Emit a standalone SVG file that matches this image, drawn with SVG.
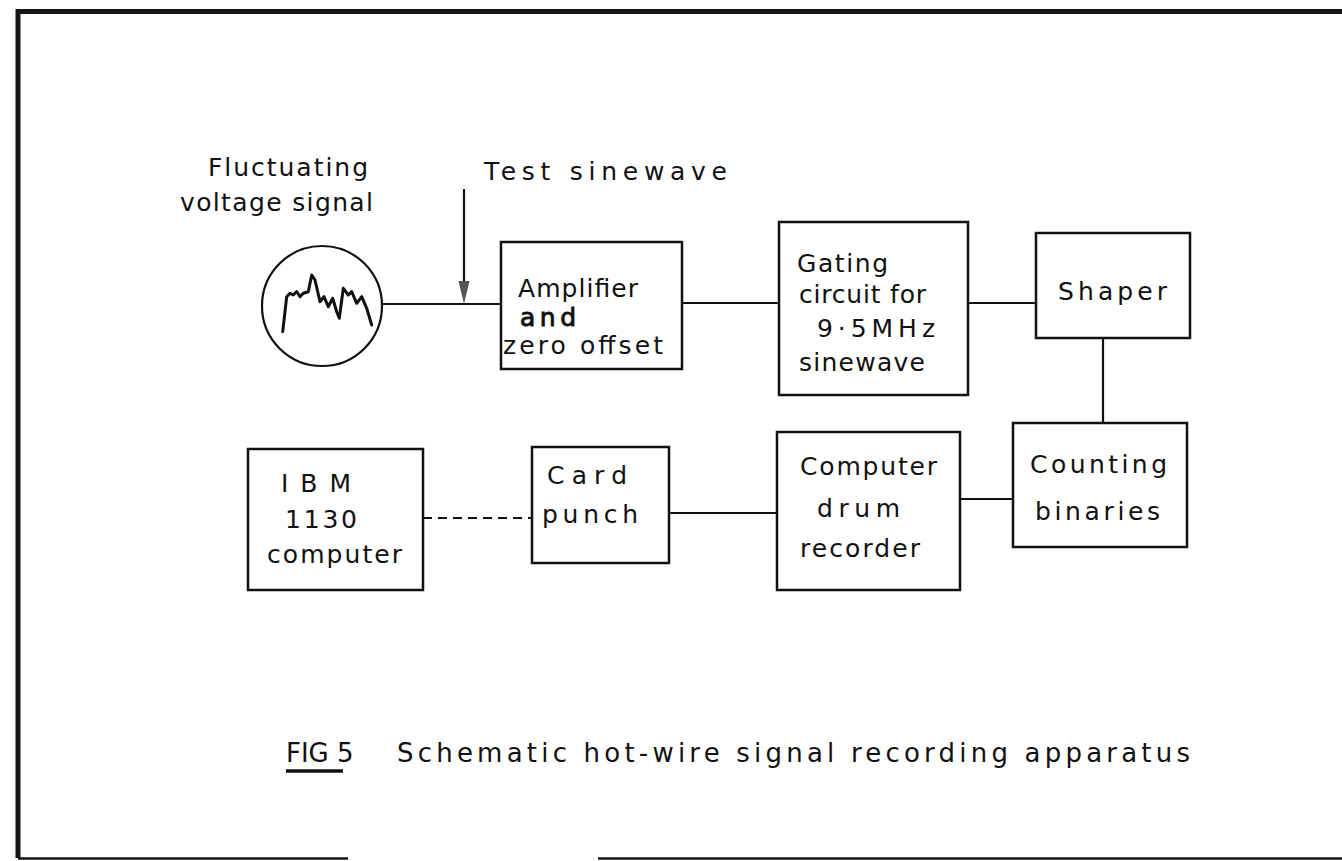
<svg xmlns="http://www.w3.org/2000/svg" width="1342" height="861" viewBox="0 0 1342 861">
  <style>
    .box { fill: #fff; stroke: #111; stroke-width: 2.5; }
    .wire { fill: none; stroke: #111; stroke-width: 2.2; }
    .dash { fill: none; stroke: #111; stroke-width: 2; stroke-dasharray: 9 6; }
    .lbl { font-family: "DejaVu Sans", "Liberation Sans", sans-serif; font-size: 25px; fill: #111; }
    .cap { font-family: "DejaVu Sans", "Liberation Sans", sans-serif; font-size: 26px; fill: #111; }
    .frame { fill: none; stroke: #151515; }
  </style>

  <rect width="1342" height="861" fill="#fff"/>

  <!-- page frame -->
  <g id="frame">
    <path class="frame" d="M18,858 L18,11.5 L1342,11.5" stroke-width="5"/>
    <path class="frame" d="M18,858.5 L348,858.5" stroke-width="2.5" stroke="#444"/>
    <path class="frame" d="M598,858.5 L1342,858.5" stroke-width="2.5" stroke="#777"/>
  </g>

  <!-- connectors -->
  <g id="connectors">
    <path class="wire" d="M382,304 L501,304"/>
    <path class="wire" d="M464,189 L464,284"/>
    <polygon points="458.5,281 469.5,281 464,304" fill="#555"/>
    <path class="wire" d="M682,303 L779,303"/>
    <path class="wire" d="M968,303 L1036,303"/>
    <path class="wire" d="M1103,338 L1103,423"/>
    <path class="wire" d="M960,499 L1013,499"/>
    <path class="wire" d="M669,513 L777,513"/>
    <path class="dash" d="M423,518 L532,518"/>
  </g>

  <!-- signal source -->
  <g id="source">
    <circle cx="322" cy="306" r="60" fill="#fff" stroke="#111" stroke-width="2.2"/>
    <polyline fill="none" stroke="#111" stroke-width="3" stroke-linejoin="round" stroke-linecap="round"
      points="282.7,331.7 286.7,296.7 290,293.3 293.3,295 296.7,291.7 300,296.7 303.3,293.3 308.3,291.7 311.7,275 315,280 320,301.7 324,296.7 328.3,306.7 332.7,298.3 336.7,311.7 339.3,318.3 343.3,288.3 348.3,295 351.7,291.7 356.7,303.3 361.7,296.7 366.7,308.3 371.7,325"/>
    <text class="lbl" x="208" y="176" textLength="160" lengthAdjust="spacing">Fluctuating</text>
    <text class="lbl" x="180" y="211" textLength="193" lengthAdjust="spacing">voltage signal</text>
  </g>

  <g id="test-sinewave">
    <text class="lbl" x="484" y="180" font-size="22" textLength="243" lengthAdjust="spacing">Test sinewave</text>
  </g>

  <g id="amplifier">
    <rect class="box" x="501" y="242" width="181" height="127"/>
    <text class="lbl" x="518" y="297" textLength="120" lengthAdjust="spacing">Amplifier</text>
    <text class="lbl" x="520" y="326" stroke="#111" stroke-width="0.9" textLength="56" lengthAdjust="spacing">and</text>
    <text class="lbl" x="503" y="354" textLength="160" lengthAdjust="spacing">zero offset</text>
  </g>

  <g id="gating">
    <rect class="box" x="779" y="222" width="189" height="173"/>
    <text class="lbl" x="797" y="272" textLength="91" lengthAdjust="spacing">Gating</text>
    <text class="lbl" x="799" y="303" textLength="127" lengthAdjust="spacing">circuit for</text>
    <text class="lbl" x="817" y="337" textLength="118" lengthAdjust="spacing">9·5MHz</text>
    <text class="lbl" x="799" y="371" textLength="126" lengthAdjust="spacing">sinewave</text>
  </g>

  <g id="shaper">
    <rect class="box" x="1036" y="233" width="154" height="105"/>
    <text class="lbl" x="1058" y="300" textLength="109" lengthAdjust="spacing">Shaper</text>
  </g>

  <g id="counting">
    <rect class="box" x="1013" y="423" width="174" height="124"/>
    <text class="lbl" x="1030" y="473" textLength="137" lengthAdjust="spacing">Counting</text>
    <text class="lbl" x="1035" y="520" textLength="125" lengthAdjust="spacing">binaries</text>
  </g>

  <g id="drum-recorder">
    <rect class="box" x="777" y="432" width="183" height="158"/>
    <text class="lbl" x="800" y="475" textLength="137" lengthAdjust="spacing">Computer</text>
    <text class="lbl" x="817" y="517" textLength="83" lengthAdjust="spacing">drum</text>
    <text class="lbl" x="800" y="557" textLength="120" lengthAdjust="spacing">recorder</text>
  </g>

  <g id="card-punch">
    <rect class="box" x="532" y="447" width="137" height="116"/>
    <text class="lbl" x="547" y="484" font-size="26" textLength="80" lengthAdjust="spacing">Card</text>
    <text class="lbl" x="542" y="523" font-size="26" textLength="96" lengthAdjust="spacing">punch</text>
  </g>

  <g id="ibm">
    <rect class="box" x="248" y="449" width="175" height="141"/>
    <text class="lbl" x="281" y="492" font-size="26" textLength="70" lengthAdjust="spacing">IBM</text>
    <text class="lbl" x="285" y="528" textLength="72" lengthAdjust="spacing">1130</text>
    <text class="lbl" x="267" y="563" textLength="135" lengthAdjust="spacing">computer</text>
  </g>

  <!-- figure caption -->
  <g id="caption">
    <text class="cap" x="286" y="762" font-size="24">FIG 5</text>
    <path d="M286,771 L343,771" stroke="#111" stroke-width="3.5"/>
    <text class="cap" x="397" y="762" textLength="793" lengthAdjust="spacing">Schematic hot-wire signal recording apparatus</text>
  </g>
</svg>
